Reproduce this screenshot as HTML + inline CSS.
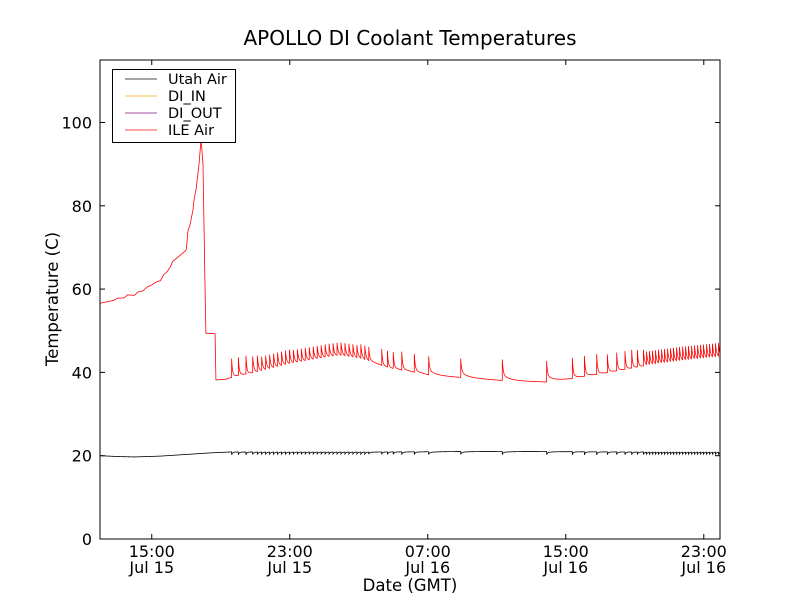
<!DOCTYPE html>
<html><head><meta charset="utf-8"><style>
body{margin:0;background:#fff}
svg text{font-family:"DejaVu Sans","Liberation Sans",sans-serif;fill:#000}
</style></head><body>
<svg id="chart" width="800" height="600" xmlns="http://www.w3.org/2000/svg">
<rect width="800" height="600" fill="#fff"/>
<text x="410" y="45" font-size="20" text-anchor="middle">APOLLO DI Coolant Temperatures</text>
<g id="plot"></g>
<text transform="translate(58,299) rotate(-90)" font-size="16.5" text-anchor="middle">Temperature (C)</text>
<text x="410" y="591" font-size="16.5" text-anchor="middle">Date (GMT)</text>
</svg>
<script>
// Hours measured from Jul 15 00:00 GMT
const xDomain = [12, 47.94];
const yDomain = [0, 115];
const yTicks = [0, 20, 40, 60, 80, 100];
const xTicks = [15, 23, 31, 39, 47];
const xTickTime = ["15:00", "23:00", "07:00", "15:00", "23:00"];
const xTickDate = ["Jul 15", "Jul 15", "Jul 16", "Jul 16", "Jul 16"];
const seriesNames = ["Utah Air", "DI_IN", "DI_OUT", "ILE Air"];
const seriesColors = ["#000000", "#ffa500", "#800080", "#ff0000"];

const ileTimes = [12, 12.8, 13.0, 13.4, 13.6, 14.0, 14.2, 14.5, 14.7, 15.0, 15.3, 15.5, 15.7, 15.9, 16.1, 16.2, 16.5, 16.7, 16.9, 17.0, 17.1, 17.22, 17.39, 17.45, 17.57, 17.74, 17.86, 17.97, 18.09, 18.14, 18.67, 18.72, 19.25, 19.6, 21.1, 23.0, 25.16, 25.9, 27.07, 28.8, 31.1, 32.9, 35.2, 37.8, 39.36, 41.0, 43.3, 45.6, 47.94];
const ileTemps = [56.6, 57.3, 57.8, 57.9, 58.6, 58.5, 59.3, 59.6, 60.4, 61.0, 61.8, 62.0, 63.5, 64.2, 65.5, 66.6, 67.6, 68.3, 69.0, 69.5, 74.0, 75.5, 79.0, 81.5, 84.0, 90.0, 96.0, 90, 60, 49.4, 49.3, 38.2, 38.3, 38.8, 40, 42.0, 43.6, 44.0, 43.3, 41, 39.3, 38.8, 38.1, 37.7, 38.5, 39.5, 41.3, 42.6, 43.6];

const spikeTimes = [19.63, 20.02, 20.46, 20.85, 21.12, 21.37, 21.60, 21.83, 22.06, 22.29, 22.52, 22.75, 22.98, 23.21, 23.44, 23.67, 23.90, 24.13, 24.36, 24.59, 24.82, 25.05, 25.28, 25.51, 25.74, 25.97, 26.20, 26.43, 26.66, 26.89, 27.12, 27.35, 27.58, 28.33, 28.66, 29.0, 29.49, 30.22, 31.05, 32.91, 35.32, 37.89, 39.38, 40.08, 40.79, 41.41, 41.95, 42.43, 42.82, 43.15, 43.50, 43.68, 43.85, 44.02, 44.20, 44.37, 44.55, 44.72, 44.90, 45.07, 45.24, 45.42, 45.59, 45.77, 45.94, 46.11, 46.29, 46.46, 46.64, 46.81, 46.98, 47.16, 47.33, 47.50, 47.68, 47.85];
const spikeAmps = [4.5, 4.5, 4.5, 4, 4, 3.5, 3.5, 3.5, 3.5, 3.5, 3.5, 3.5, 3.5, 3.2, 3.2, 3.2, 3.2, 3.2, 3.2, 3.2, 3.2, 3.2, 3.2, 3.2, 3.2, 3.2, 3.2, 3.2, 3.2, 3.2, 3.5, 3.5, 3.5, 4, 4, 4, 4.5, 4.5, 4.5, 4.5, 5, 5, 5, 5, 5, 4.5, 4.5, 4.5, 4.5, 4.2, 4, 3.5, 3.5, 3.5, 3.5, 3.5, 3.5, 3.5, 3.5, 3.5, 3.5, 3.5, 3.5, 3.5, 3.5, 3.5, 3.5, 3.5, 3.5, 3.5, 3.5, 3.5, 3.5, 3.5, 3.5, 3.5];

const utahTimes = [12, 13.0, 14.0, 15.5, 17.0, 18.5, 19.6, 23.0, 28.0, 33.0, 38.0, 43.0, 47.94];
const utahTemps = [20.0, 19.8, 19.7, 19.9, 20.3, 20.7, 20.9, 20.9, 20.9, 21.0, 21.0, 20.9, 20.9];

const L = 100, R = 720, T = 60, B = 539;
const sx = h => L + (h - xDomain[0]) / (xDomain[1] - xDomain[0]) * (R - L);
const sy = v => B - (v - yDomain[0]) / (yDomain[1] - yDomain[0]) * (B - T);
const NS = "http://www.w3.org/2000/svg";
const plot = document.getElementById('plot');
function el(tag, attrs, parent) {
  const e = document.createElementNS(NS, tag);
  for (const k in attrs) e.setAttribute(k, attrs[k]);
  (parent || plot).appendChild(e);
  return e;
}
function interp(ts, vs, t) {
  if (t <= ts[0]) return vs[0];
  for (let i = 1; i < ts.length; i++) if (t <= ts[i]) {
    const f = (t - ts[i-1]) / (ts[i] - ts[i-1]); return vs[i-1] + f * (vs[i] - vs[i-1]);
  }
  return vs[vs.length - 1];
}
function spikeAt(t, scale) {
  let s = 0;
  for (let i = 0; i < spikeTimes.length; i++) {
    const d = t - spikeTimes[i];
    const gap = i + 1 < spikeTimes.length ? spikeTimes[i+1] - spikeTimes[i] : 0.2;
    if (d >= 0 && d < gap) {
      const tail = Math.min(1, gap / 1.5);
      s += spikeAmps[i] * scale * ((1 - 0.3 * tail) * Math.exp(-d / (gap < 0.3 ? 0.07 : 0.05)) + 0.3 * tail * Math.exp(-d / 0.4));
    }
  }
  return s;
}
function buildPath(base, scale) {
  const pts = [];
  const samples = [];
  for (let t = xDomain[0]; t <= xDomain[1]; t += 0.01) samples.push(t);
  spikeTimes.forEach(st => { samples.push(st - 0.0001); samples.push(st); });
  samples.sort((a, b) => a - b);
  samples.forEach(t => {
    if (t < xDomain[0] || t > xDomain[1]) return;
    const v = base(t) + spikeAt(t, scale);
    pts.push(sx(t).toFixed(2) + ',' + sy(v).toFixed(2));
  });
  return 'M' + pts.join('L');
}

const clip = el('clipPath', {id: 'pc'});
el('rect', {x: L, y: T, width: R - L, height: B - T}, clip);

const utah = el('path', {d: buildPath(t => interp(utahTimes, utahTemps, t), -0.15), fill: 'none', stroke: seriesColors[0], 'stroke-width': 0.8, 'clip-path': 'url(#pc)'});


const ile = el('path', {d: buildPath(t => interp(ileTimes, ileTemps, t), 1), fill: 'none', stroke: seriesColors[3], 'stroke-width': 0.8, 'clip-path': 'url(#pc)'});



const frame = el('rect', {x: L, y: T, width: R - L, height: B - T, fill: 'none', stroke: '#000', 'stroke-width': 1});



yTicks.forEach(v => {
  const y = sy(v);
  el('line', {x1: L, x2: L + 5, y1: y, y2: y, stroke: '#000'});
  el('line', {x1: R - 5, x2: R, y1: y, y2: y, stroke: '#000'});
  const tx = el('text', {x: L - 8, y: y + 6, 'font-size': 16, 'text-anchor': 'end'});
  tx.textContent = v;
  
  
});
xTicks.forEach((h, i) => {
  const x = sx(h);
  el('line', {x1: x, x2: x, y1: B, y2: B - 5, stroke: '#000'});
  el('line', {x1: x, x2: x, y1: T, y2: T + 5, stroke: '#000'});
  const tx = el('text', {x: x, y: 557, 'font-size': 16, 'text-anchor': 'middle'});
  tx.textContent = xTickTime[i];
  
  
  const td = el('text', {x: x, y: 573, 'font-size': 16, 'text-anchor': 'middle'});
  td.textContent = xTickDate[i];
  
  
});

const lg = el('g', {});


el('rect', {x: 112.5, y: 69.5, width: 123, height: 73, fill: '#fff', stroke: '#000', 'stroke-width': 1}, lg);
seriesNames.forEach((n, i) => {
  const y = 79 + i * 17;
  const g = el('g', {}, lg);
  
  
  el('line', {x1: 125, x2: 157, y1: y, y2: y, stroke: seriesColors[i], 'stroke-width': 1, opacity: 0.7}, g);
  const t = el('text', {x: 168, y: y + 5, 'font-size': 14.5}, g);
  t.textContent = n;
});
</script>
</body></html>
